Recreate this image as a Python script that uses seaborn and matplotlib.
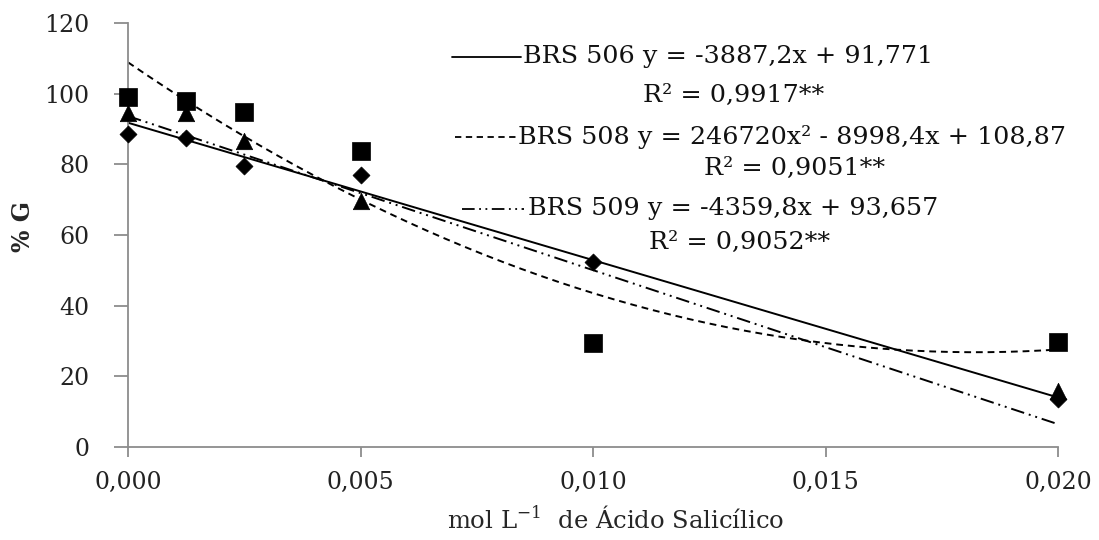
import numpy as np
import pandas as pd
import matplotlib
matplotlib.use("Agg")
import matplotlib.pyplot as plt
from matplotlib.ticker import FuncFormatter
import seaborn as sns

# Salicylic acid concentration (mol L-1)
conc = [0.0, 0.00125, 0.0025, 0.005, 0.010, 0.020]

# Germination (%) per cultivar
brs506 = [88.6, 87.5, 79.5, 77.0, 52.4, 13.5]
brs508 = [99.0, 97.8, 94.9, 83.7, 29.5, 29.6]
brs509 = [94.5, 94.5, 86.5, 69.5, np.nan, 15.8]

# Fitted trend coefficients (highest power first)
fit506 = [-3887.2, 91.771]
fit508 = [246720, -8998.4, 108.87]
fit509 = [-4359.8, 93.657]

eq_labels = [
    "BRS 506 y = -3887,2x + 91,771",
    "BRS 508 y = 246720x² - 8998,4x + 108,87",
    "BRS 509 y = -4359,8x + 93,657",
]
r2_labels = ["R² = 0,9917**", "R² = 0,9051**", "R² = 0,9052**"]

sns.set_style("white")
plt.rcParams["font.family"] = ["DejaVu Serif"]
plt.rcParams["mathtext.fontset"] = "dejavuserif"

W, H = 1099, 540
fig = plt.figure(figsize=(W / 100, H / 100), dpi=100)
ax = fig.add_axes([128 / W, 1 - 447 / H, 930 / W, 424 / H])

styles = {
    "506": "-",
    "508": (0, (3.5, 2.5)),
    "509": (0, (7, 2.5, 1, 2.5, 1, 2.5)),
}

xs = np.linspace(0, 0.02, 200)
curves = pd.DataFrame({
    "x": np.tile(xs, 3),
    "y": np.concatenate([np.polyval(fit506, xs), np.polyval(fit508, xs), np.polyval(fit509, xs)]),
    "cv": np.repeat(["506", "508", "509"], len(xs)),
})
for cv, sub in curves.groupby("cv"):
    sns.lineplot(data=sub, x="x", y="y", ax=ax, color="black",
                 linestyle=styles[cv], linewidth=1.4, zorder=2)

pts = pd.DataFrame({"x": conc * 3,
                    "y": brs508 + brs509 + brs506,
                    "cv": ["508"] * 6 + ["509"] * 6 + ["506"] * 6}).dropna()
markers = {"508": ("s", 150), "509": ("^", 140), "506": ("D", 75)}
for cv in ["508", "509", "506"]:
    sub = pts[pts.cv == cv]
    m, s = markers[cv]
    sns.scatterplot(data=sub, x="x", y="y", ax=ax, marker=m, s=s,
                    color="black", edgecolor="black", linewidth=0.5, zorder=3,
                    clip_on=False)

ax.set_xlim(0, 0.02)
ax.set_ylim(0, 120)
ax.set_xticks([0, 0.005, 0.010, 0.015, 0.020])
ax.set_yticks(range(0, 121, 20))
ax.xaxis.set_major_formatter(FuncFormatter(lambda v, p: f"{v:.3f}".replace(".", ",")))
for sp in ["top", "right"]:
    ax.spines[sp].set_visible(False)
for sp in ["left", "bottom"]:
    ax.spines[sp].set_color("#8c8c8c")
    ax.spines[sp].set_linewidth(1.3)
ax.tick_params(axis="both", direction="out", width=1.3, color="#8c8c8c",
               labelsize=17, labelcolor="#222222", left=True, bottom=True)
ax.tick_params(axis="y", length=10, pad=18)
ax.tick_params(axis="x", length=7, pad=10)

ax.set_xlabel("mol L$^{-1}$  de Ácido Salicílico", fontsize=17.5)
ax.xaxis.set_label_coords((616 - 128) / 930, (447 - 520) / 424)
ax.xaxis.label.set_va("center")
ax.set_ylabel("% G", fontsize=17, fontweight="bold")
ax.yaxis.set_label_coords((35 - 128) / 930, (447 - 227) / 424)

# Trendline key with equations (pixel layout converted to figure fraction)
def fx(px):
    return px / W

def fy(py):
    return 1 - py / H

handles = [((452, 521), 57), ((455, 516), 137), ((462, 524), 209)]
eq_pos = [(523, 57), (518, 137), (528, 209)]
r2_pos = [(734, 95), (795, 168), (740, 242)]
for cv, (hx, hy), (ex, ey), (rx, ry), eq, r2 in zip(
        ["506", "508", "509"], handles, eq_pos, r2_pos, eq_labels, r2_labels):
    fig.lines.append(plt.Line2D([fx(hx[0]), fx(hx[1])], [fy(hy), fy(hy)],
                                transform=fig.transFigure, color="black",
                                linestyle=styles[cv], linewidth=1.3))
    fig.text(fx(ex), fy(ey), eq, ha="left", va="center", fontsize=18.3, color="#111111")
    fig.text(fx(rx), fy(ry), r2, ha="center", va="center", fontsize=18.3, color="#111111")

fig.savefig("out.png", dpi=100)
